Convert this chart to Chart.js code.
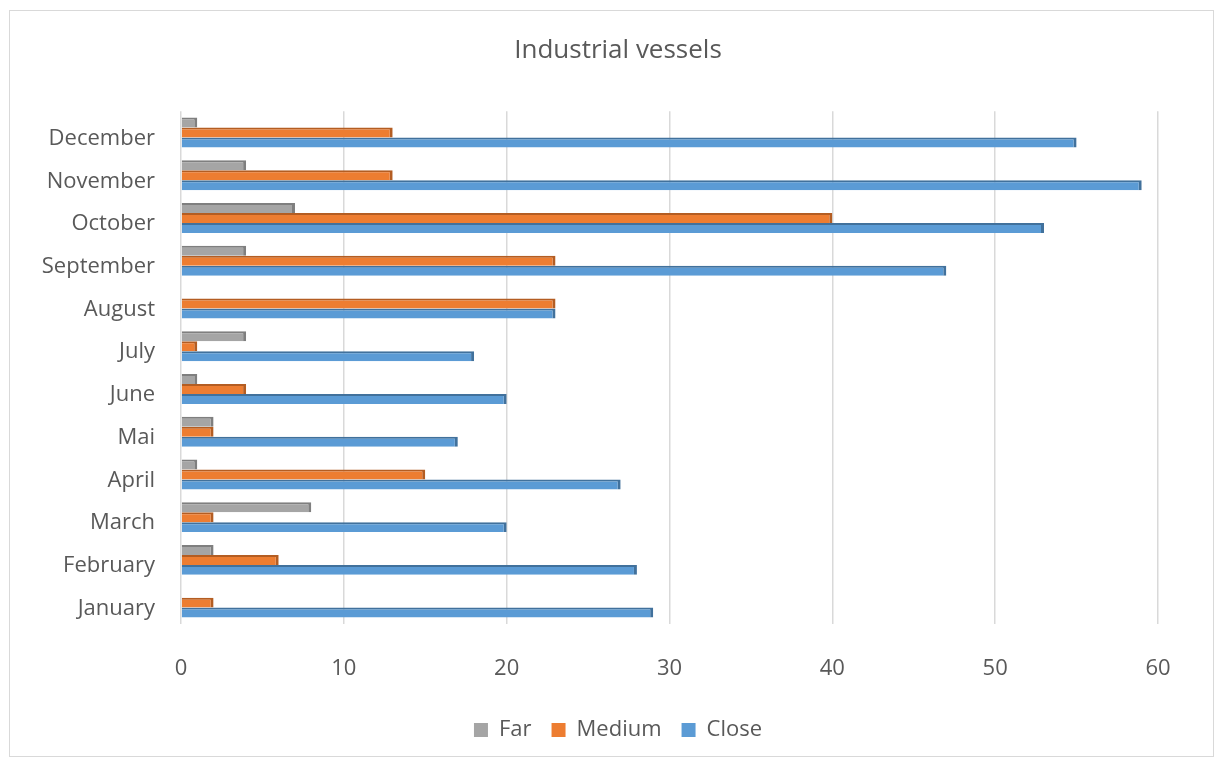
<!DOCTYPE html>
<html>
<head>
<meta charset="utf-8">
<script src="https://cdn.jsdelivr.net/npm/chart.js@4.4.1/dist/chart.umd.min.js"></script>
<style>
  html, body { margin: 0; padding: 0; background: #fff; }
  #box {
    position: absolute; left: 9px; top: 10px;
    width: 1203px; height: 745px;
    border: 1px solid #d9d9d9;
  }
</style>
</head>
<body>
<div id="box"><canvas id="vessels-chart"></canvas></div>
<script>
// data, January -> December
const months = ["January", "February", "March", "April", "Mai", "June",
    "July", "August", "September", "October", "November", "December"];
const far = [0, 2, 8, 1, 2, 1, 4, 0, 4, 7, 4, 1];
const medium = [2, 6, 2, 15, 2, 4, 1, 23, 23, 40, 13, 13];
const close = [29, 28, 20, 27, 17, 20, 18, 23, 47, 53, 59, 55];
const xTicks = [0, 10, 20, 30, 40, 50, 60];

const textColor = "#595959";
const fontFamily = "'Open Sans', 'Noto Sans', sans-serif";

// December is drawn on top, so flip the lists for the category axis
const rev = (arr) => arr.slice().reverse();

function series(label, values, face, edge) {
    return {
        label: label,
        data: rev(values),
        backgroundColor: face,
        borderColor: edge,
        borderWidth: { top: 2, right: 3, bottom: 0, left: 0 },
        borderSkipped: false,
        categoryPercentage: 0.7,
        barPercentage: 1.0,
    };
}

let ctx = document.getElementById("vessels-chart").getContext("2d");
let myChart = new Chart(ctx, {
    type: "bar",
    data: {
        labels: rev(months),
        datasets: [
            series("Far", far, "#a5a5a5", "#7f7f7f"),
            series("Medium", medium, "#ed7d31", "#b45d22"),
            series("Close", close, "#5b9bd5", "#41719c"),
        ],
    },
    options: {
        indexAxis: "y",
        responsive: true,
        maintainAspectRatio: false,
        animation: false,
        layout: {
            padding: { left: 13, right: 0, top: 0, bottom: 5 },
        },
        plugins: {
            title: {
                display: true,
                text: "Industrial vessels",
                color: textColor,
                font: { family: fontFamily, size: 26, weight: "normal" },
                padding: { top: 24, bottom: 45 },
            },
            legend: {
                position: "bottom",
                labels: {
                    color: textColor,
                    boxWidth: 14,
                    boxHeight: 14,
                    padding: 20,
                    font: { family: fontFamily, size: 22 },
                    generateLabels: (chart) =>
                        chart.data.datasets.map((ds, i) => ({
                            text: ds.label,
                            fillStyle: ds.backgroundColor,
                            strokeStyle: ds.backgroundColor,
                            lineWidth: 0,
                            fontColor: textColor,
                            datasetIndex: i,
                        })),
                },
            },
            tooltip: { enabled: false },
        },
        scales: {
            x: {
                min: 0,
                max: 60,
                afterBuildTicks: (scale) => {
                    scale.ticks = xTicks.map((v) => ({ value: v }));
                },
                afterFit: (scale) => {
                    scale.height = 75;
                },
                ticks: {
                    color: textColor,
                    padding: 32,
                    font: { family: fontFamily, size: 22 },
                },
                grid: {
                    color: "#d9d9d9",
                    lineWidth: 1.5,
                    drawTicks: false,
                },
                border: { display: false },
            },
            y: {
                afterFit: (scale) => {
                    scale.width = 158;
                },
                ticks: {
                    color: textColor,
                    padding: 26,
                    labelOffset: 6,
                    font: { family: fontFamily, size: 22 },
                },
                grid: { display: false, drawTicks: false },
                border: { display: false },
            },
            // empty axis on the right, only keeps the space after 60
            yRight: {
                type: "category",
                position: "right",
                labels: [],
                afterFit: (scale) => {
                    scale.width = 55;
                },
                ticks: { display: false },
                grid: { display: false, drawTicks: false },
                border: { display: false },
            },
        },
    },
});
</script>
</body>
</html>
